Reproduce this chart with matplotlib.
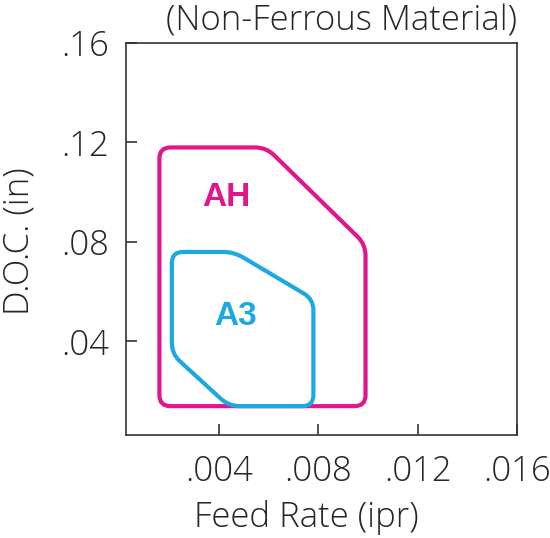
import numpy as np
import matplotlib
matplotlib.use("Agg")
import matplotlib.pyplot as plt
from matplotlib.path import Path
from matplotlib.patches import PathPatch
from matplotlib.transforms import IdentityTransform

# ---- data ----
ah_feed = [0.0016, 0.0016, 0.0059, 0.0099, 0.0099]
ah_doc = [0.014, 0.118, 0.118, 0.079, 0.014]
a3_feed = [0.0044, 0.0021, 0.0021, 0.0046, 0.0078, 0.0078]
a3_doc = [0.014, 0.035, 0.076, 0.076, 0.057, 0.014]
ah_label_pos = (0.00428, 0.098)
a3_label_pos = (0.00465, 0.0501)
x_ticks = [0.004, 0.008, 0.012, 0.016]
y_ticks = [0.04, 0.08, 0.12, 0.16]
title = "(Non-Ferrous Material)"
xlabel = "Feed Rate (ipr)"
ylabel = "D.O.C. (in)"

MAGENTA = "#E0168C"
CYAN = "#1CA9E1"
TXT = "#262626"

plt.rcParams['font.family'] = ['Open Sans', 'DejaVu Sans']
plt.rcParams['font.weight'] = 'light'
FS = 25

W, H = 550, 538
fig = plt.figure(figsize=(W / 100, H / 100), dpi=100)
ax = fig.add_axes([126 / W, 1 - 435 / H, (517 - 126) / W, (435 - 43) / H])
ax.set_xlim(0.000254, 0.0160)
ax.set_ylim(0.0024, 0.160)

for s in ax.spines.values():
    s.set_color("#333333")
    s.set_linewidth(1.2)

ax.set_xticks(x_ticks)
ax.set_xticklabels([("%.3f" % v).lstrip("0") for v in x_ticks])
ax.set_yticks(y_ticks)
ax.set_yticklabels([("%.2f" % v).lstrip("0") for v in y_ticks])
ax.tick_params(direction="in", length=8, width=1.2, color="#333333",
               labelsize=FS, labelcolor=TXT)
ax.tick_params(axis="x", pad=14)
ax.tick_params(axis="y", pad=12)


def rounded_patch(xs, ys, color, radius=11, lw=3.0):
    pts = ax.transData.transform(np.column_stack([xs, ys]))
    n = len(pts)
    verts, codes = [], []
    for i in range(n):
        p_prev = pts[i - 1]
        p = pts[i]
        p_next = pts[(i + 1) % n]
        d1 = p_prev - p
        d2 = p_next - p
        l1 = np.hypot(*d1)
        l2 = np.hypot(*d2)
        r = min(radius, l1 / 2.2, l2 / 2.2)
        a = p + d1 / l1 * r
        b = p + d2 / l2 * r
        verts.append(a); codes.append(Path.MOVETO if i == 0 else Path.LINETO)
        verts.append(p); codes.append(Path.CURVE3)
        verts.append(b); codes.append(Path.CURVE3)
    verts.append(verts[0]); codes.append(Path.CLOSEPOLY)
    patch = PathPatch(Path(verts, codes), facecolor="none", edgecolor=color,
                      linewidth=lw, transform=IdentityTransform(), clip_on=False)
    fig.add_artist(patch)


rounded_patch(ah_feed, ah_doc, MAGENTA)
rounded_patch(a3_feed, a3_doc, CYAN)

ax.text(*ah_label_pos, "AH", color=MAGENTA, fontsize=24, fontweight="bold",
        ha="center", va="center", family=['Liberation Sans', 'DejaVu Sans'])
ax.text(*a3_label_pos, "A3", color=CYAN, fontsize=24, fontweight="bold",
        ha="center", va="center", family=['Liberation Sans', 'DejaVu Sans'])

fig.text(517 / W, 1 - 30 / H, title, ha="right", va="baseline",
         fontsize=FS, color=TXT)
fig.text(306 / W, 1 - 527 / H, xlabel, ha="center", va="baseline",
         fontsize=FS, color=TXT)
fig.text(19 / W, 1 - 241 / H, ylabel, ha="center", va="center", rotation=90,
         fontsize=FS, color=TXT)

fig.savefig("out.png", dpi=100)
